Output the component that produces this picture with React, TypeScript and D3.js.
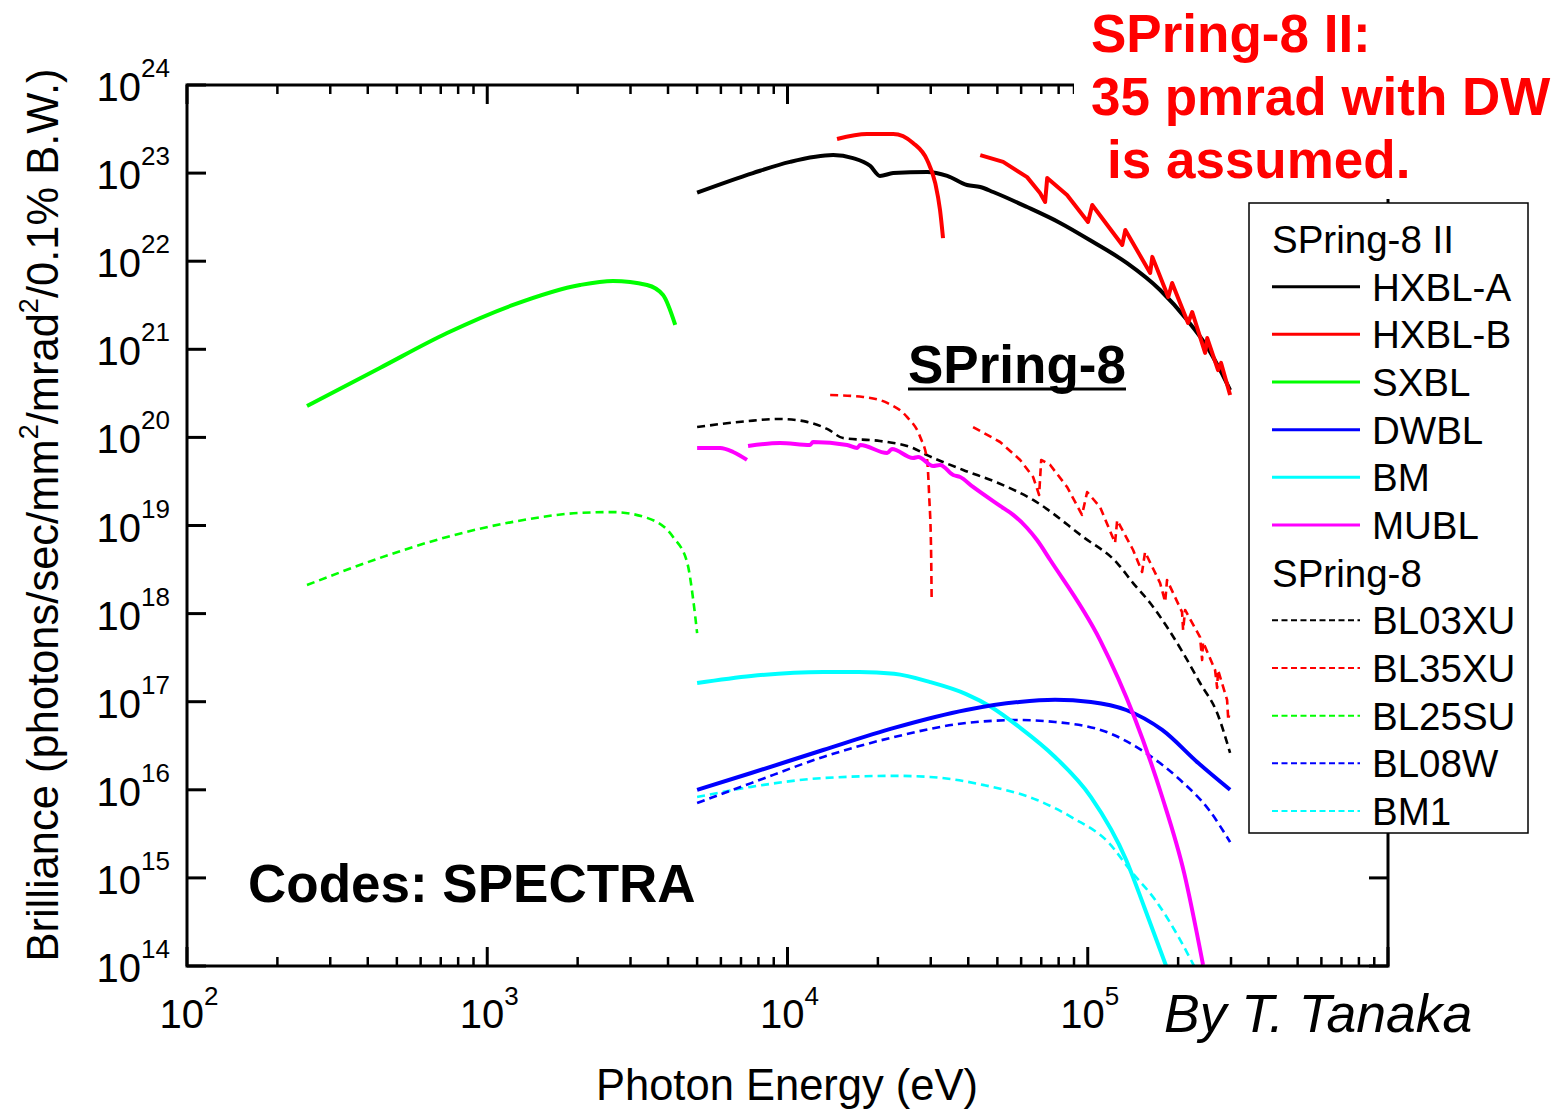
import React from 'react';
import * as d3 from 'd3';

type Pt = [number, number];

// ---- Data: [photon energy (eV), brilliance] ----
const hxblA: Pt[] = [[5000,6.0e22],[7670,1.0e23],[10200,1.34e23],[14190,1.60e23],[16520,1.48e23],[18840,1.21e23],[20320,9.3e22],[22490,1.0e23],[29170,1.03e23],[34040,9.3e22],[39630,7.33e22],[43850,6.95e22],[48420,6.1e22],[62810,4.12e22],[80910,2.72e22],[104200,1.65e22],[135200,9.5e21],[174200,4.71e21],[214300,2.15e21],[250000,1.06e21],[276100,5.8e20],[297900,3.45e20]];
const hxblB1: Pt[] = [[14620,2.44e23],[18410,2.78e23],[22490,2.78e23],[26180,2.2e23],[29170,1.41e23],[31050,7.7e22],[32210,3.8e22],[32960,1.83e22]];
const hxblB2: Pt[] = [[43850,1.6e23],[52270,1.34e23],[62810,9.0e22],[69340,5.94e22],[72110,4.7e22],[73280,8.8e22],[85310,5.64e22],[100200,2.79e22],[103500,4.35e22],[130300,1.53e22],[133400,2.26e22],[161400,7.35e21],[164100,1.12e22],[185400,3.93e21],[191000,5.66e21],[215800,1.99e21],[222800,2.65e21],[246000,9.1e20],[250000,1.34e21],[271600,5.8e20],[278000,7.0e20],[297900,3.03e20]];
const sxbl: Pt[] = [[251,2.27e20],[439,6.14e20],[735,1.53e21],[1219,3.19e21],[2037,5.37e21],[2625,5.96e21],[3406,5.37e21],[3851,4.13e21],[4227,1.89e21]];
const dwbl: Pt[] = [[5000,1.0e16],[7570,1.55e16],[13150,2.83e16],[22650,5.04e16],[39360,8.05e16],[59120,9.93e16],[77800,1.05e17],[102500,9.93e16],[134300,8.05e16],[177000,4.78e16],[233500,2.01e16],[297900,1.0e16]];
const bm: Pt[] = [[5000,1.63e17],[7570,1.96e17],[13150,2.17e17],[17340,2.17e17],[22650,2.07e17],[29850,1.67e17],[39360,1.22e17],[47680,8.72e16],[59120,5.16e16],[77800,2.36e16],[102500,8.28e15],[134300,1.6e15],[154200,4.68e14],[182400,1.0e14]];
const mubl1: Pt[] = [[5000,7.58e19],[5970,7.58e19],[6590,6.83e19],[7330,5.55e19]];
const mubl2: Pt[] = [[7390,7.98e19],[9440,8.63e19],[11890,8.2e19],[12160,8.87e19],[15800,8.2e19],[17060,7.58e19],[17460,8.2e19],[21480,6.65e19],[22280,7.38e19],[26180,5.83e19],[27230,6.0e19],[30550,4.73e19],[32210,4.86e19],[35630,3.74e19],[37580,3.55e19],[41500,2.74e19],[51050,1.67e19],[56450,1.32e19],[62810,9.37e18],[67760,6.84e18],[74990,4.06e18],[109900,5.01e17],[142900,6.7e16],[177000,8.28e15],[209400,1.14e15],[242100,1.03e14]];
const bl03xu: Pt[] = [[5000,1.31e20],[7330,1.53e20],[9440,1.62e20],[11610,1.5e20],[13550,1.25e20],[15310,9.85e19],[20320,9.1e19],[26180,7.58e19],[29170,6.3e19],[38460,4.27e19],[50310,3.04e19],[65770,1.95e19],[96560,7.41e18],[125300,3.75e18],[141600,2.22e18],[161400,1.32e18],[183700,7.04e17],[207800,3.57e17],[236600,1.63e17],[269800,7.45e16],[297900,2.62e16]];
const bl35xu1: Pt[] = [[13870,3.03e20],[17860,2.88e20],[21480,2.46e20],[25000,1.71e20],[27670,1.01e20],[29170,5.55e19],[29650,2.1e19],[30060,5.7e18],[30200,1.54e18]];
const bl35xu2: Pt[] = [[41500,1.31e20],[51050,8.87e19],[59570,5.55e19],[65770,3.55e19],[68870,2.22e19],[69980,5.55e19],[74990,4.86e19],[85310,2.74e19],[95710,1.32e19],[99540,2.4e19],[109900,1.62e19],[123300,6.33e18],[125300,1.15e19],[141600,5.27e18],[151700,2.97e18],[155200,5.0e18],[174200,2.22e18],[181100,1.36e18],[183700,2.41e18],[206100,1.04e18],[207800,6.51e17],[211000,1.1e18],[236600,5.42e17],[240400,2.97e17],[242100,4.75e17],[265500,2.29e17],[269800,1.43e17],[271600,2.29e17],[291100,1.05e17],[293800,6.19e16],[295500,7.0e16]];
const bl25su: Pt[] = [[251,2.11e18],[439,4.28e18],[735,7.41e18],[1219,1.1e19],[2037,1.39e19],[2625,1.42e19],[3406,1.22e19],[4159,7.41e18],[4638,3.75e18],[4853,1.43e18],[5000,6.0e17]];
const bl08w: Pt[] = [[5000,7.08e15],[7570,1.19e16],[13150,2.36e16],[22650,3.97e16],[39360,5.73e16],[59120,6.19e16],[77800,5.89e16],[117700,4.42e16],[154200,2.69e16],[203300,1.29e16],[253500,5.9e15],[297900,2.55e15]];
const bm1: Pt[] = [[5000,8.28e15],[7570,1.08e16],[13150,1.36e16],[22650,1.44e16],[29850,1.4e16],[45190,1.13e16],[67760,7.66e15],[89340,4.78e15],[117700,2.49e15],[138300,1.23e15],[167900,5.61e14],[203300,1.97e14],[226000,1.0e14]];

const xTickExponents = [2, 3, 4, 5, 6];
const yTickExponents = [14, 15, 16, 17, 18, 19, 20, 21, 22, 23, 24];
const minorMultipliers = [2, 3, 4, 5, 6, 7, 8, 9];

const groupNew = 'SPring-8 II';
const groupOld = 'SPring-8';
const namesNew = ['HXBL-A', 'HXBL-B', 'SXBL', 'DWBL', 'BM', 'MUBL'];
const namesOld = ['BL03XU', 'BL35XU', 'BL25SU', 'BL08W', 'BM1'];

const FONT = "'Liberation Sans', Arial, Helvetica, sans-serif";
const W = 1562, H = 1110;
const L = 187, R = 1388, T = 85, B = 966;

const COLORS: Record<string, string> = {
  'HXBL-A': '#000000', 'HXBL-B': '#ff0000', 'SXBL': '#00ff00', 'DWBL': '#0000ff', 'BM': '#00ffff', 'MUBL': '#ff00ff',
  'BL03XU': '#000000', 'BL35XU': '#ff0000', 'BL25SU': '#00ff00', 'BL08W': '#0000ff', 'BM1': '#00ffff',
};

export default function App() {
  const x = d3.scaleLog().domain([1e2, 1e6]).range([L, R]);
  const y = d3.scaleLog().domain([1e14, 1e24]).range([B, T]);

  const smooth = d3.line<Pt>().x(d => x(d[0])).y(d => y(d[1])).curve(d3.curveMonotoneX);
  const linear = d3.line<Pt>().x(d => x(d[0])).y(d => y(d[1])).curve(d3.curveLinear);

  const series = [
    { name: 'BL25SU', segs: [bl25su], dashed: true, gens: [smooth] },
    { name: 'BM1', segs: [bm1], dashed: true, gens: [smooth] },
    { name: 'BL08W', segs: [bl08w], dashed: true, gens: [smooth] },
    { name: 'BL03XU', segs: [bl03xu], dashed: true, gens: [smooth] },
    { name: 'BL35XU', segs: [bl35xu1, bl35xu2], dashed: true, gens: [smooth, linear] },
    { name: 'SXBL', segs: [sxbl], dashed: false, gens: [smooth] },
    { name: 'BM', segs: [bm], dashed: false, gens: [smooth] },
    { name: 'DWBL', segs: [dwbl], dashed: false, gens: [smooth] },
    { name: 'MUBL', segs: [mubl1, mubl2], dashed: false, gens: [smooth, smooth] },
    { name: 'HXBL-A', segs: [hxblA], dashed: false, gens: [smooth] },
    { name: 'HXBL-B', segs: [hxblB1, hxblB2], dashed: false, gens: [smooth, linear] },
  ];

  const majorX = xTickExponents.map(e => Math.pow(10, e));
  const minorX: number[] = [];
  xTickExponents.slice(0, -1).forEach(e => minorMultipliers.forEach(m => minorX.push(m * Math.pow(10, e))));
  const majorY = yTickExponents.map(e => Math.pow(10, e));

  const legendRows: { label: string; name?: string; dashed?: boolean }[] = [
    { label: groupNew },
    ...namesNew.map(n => ({ label: n, name: n, dashed: false })),
    { label: groupOld },
    ...namesOld.map(n => ({ label: n, name: n, dashed: true })),
  ];
  const legY = d3.scaleLinear().domain([0, 12]).range([239, 811]);

  return (
    <svg width={W} height={H} viewBox={`0 0 ${W} ${H}`} style={{ position: 'absolute', left: 0, top: 0, display: 'block', background: '#fff' }} fontFamily={FONT}>
      <defs>
        <clipPath id="plotClip"><rect x={L} y={T} width={R - L} height={B - T} /></clipPath>
      </defs>
      <rect x={0} y={0} width={W} height={H} fill="#fff" />

      {/* curves */}
      <g clipPath="url(#plotClip)" fill="none" strokeLinejoin="round">
        {series.map(s => s.segs.map((seg, i) => (
          <path key={s.name + i} d={s.gens[i](seg) || ''} stroke={COLORS[s.name]}
            strokeWidth={s.dashed ? 2.6 : 4} strokeDasharray={s.dashed ? '8,5' : undefined} />
        )))}
      </g>

      {/* frame */}
      <rect x={L} y={T} width={R - L} height={B - T} fill="none" stroke="#000" strokeWidth={3} />
      <g stroke="#000" strokeWidth={3}>
        {majorX.map(v => (
          <g key={'mx' + v}>
            <line x1={x(v)} x2={x(v)} y1={B} y2={B - 19} />
            <line x1={x(v)} x2={x(v)} y1={T} y2={T + 19} />
          </g>
        ))}
        {minorX.map(v => (
          <g key={'nx' + v}>
            <line x1={x(v)} x2={x(v)} y1={B} y2={B - 9} strokeWidth={2.5} />
            <line x1={x(v)} x2={x(v)} y1={T} y2={T + 9} strokeWidth={2.5} />
          </g>
        ))}
        {majorY.map(v => (
          <g key={'my' + v}>
            <line x1={L} x2={L + 19} y1={y(v)} y2={y(v)} />
            <line x1={R} x2={R - 19} y1={y(v)} y2={y(v)} />
          </g>
        ))}
      </g>

      {/* tick labels */}
      {yTickExponents.map(e => (
        <text key={'yl' + e} x={170} y={y(Math.pow(10, e)) + 16} textAnchor="end" fontSize={40} fill="#000">
          10<tspan dy={-24} fontSize={26}>{e}</tspan>
        </text>
      ))}
      {xTickExponents.slice(0, -1).map(e => (
        <text key={'xl' + e} x={x(Math.pow(10, e)) + 2} y={1028} textAnchor="middle" fontSize={40} fill="#000">
          10<tspan dy={-23} fontSize={26}>{e}</tspan>
        </text>
      ))}

      {/* axis titles */}
      <text x={787} y={1100} textAnchor="middle" fontSize={43.5} fill="#000">Photon Energy (eV)</text>
      <text transform="translate(58,515) rotate(-90)" textAnchor="middle" fontSize={43.5} fill="#000">
        Brilliance (photons/sec/mm<tspan dy={-20} fontSize={27}>2</tspan><tspan dy={20}>/mrad</tspan><tspan dy={-20} fontSize={27}>2</tspan><tspan dy={20}>/0.1% B.W.)</tspan>
      </text>

      {/* annotations */}
      <text x={908} y={383} fontSize={53} fontWeight="bold" fill="#000">SPring-8</text>
      <line x1={908} x2={1126} y1={389} y2={389} stroke="#000" strokeWidth={3} />
      <text x={248} y={902} fontSize={53} fontWeight="bold" fill="#000">Codes: SPECTRA</text>
      <text x={1164} y={1032} fontSize={53.5} fontStyle="italic" fill="#000">By T. Tanaka</text>

      {/* red note with white background */}
      <rect x={1074} y={0} width={W - 1074} height={199} fill="#fff" />
      <g fontSize={53} fontWeight="bold" fill="#ff0000">
        <text x={1091} y={52}>SPring-8 II:</text>
        <text x={1091} y={115}>35 pmrad with DW</text>
        <text x={1107} y={178}>is assumed.</text>
      </g>

      {/* legend */}
      <rect x={1249} y={203} width={279} height={630} fill="#fff" stroke="#000" strokeWidth={1.5} />
      {legendRows.map((r, i) => {
        const cy = legY(i);
        if (!r.name) {
          return <text key={'lg' + i} x={1272} y={cy + 14} fontSize={38.5} fill="#000">{r.label}</text>;
        }
        return (
          <g key={'lg' + i}>
            <line x1={1272} x2={1360} y1={cy} y2={cy} stroke={COLORS[r.name]}
              strokeWidth={r.dashed ? 2 : 3} strokeDasharray={r.dashed ? '6,3.5' : undefined} />
            <text x={1372} y={cy + 14} fontSize={38.5} fill="#000">{r.label}</text>
          </g>
        );
      })}
    </svg>
  );
}
